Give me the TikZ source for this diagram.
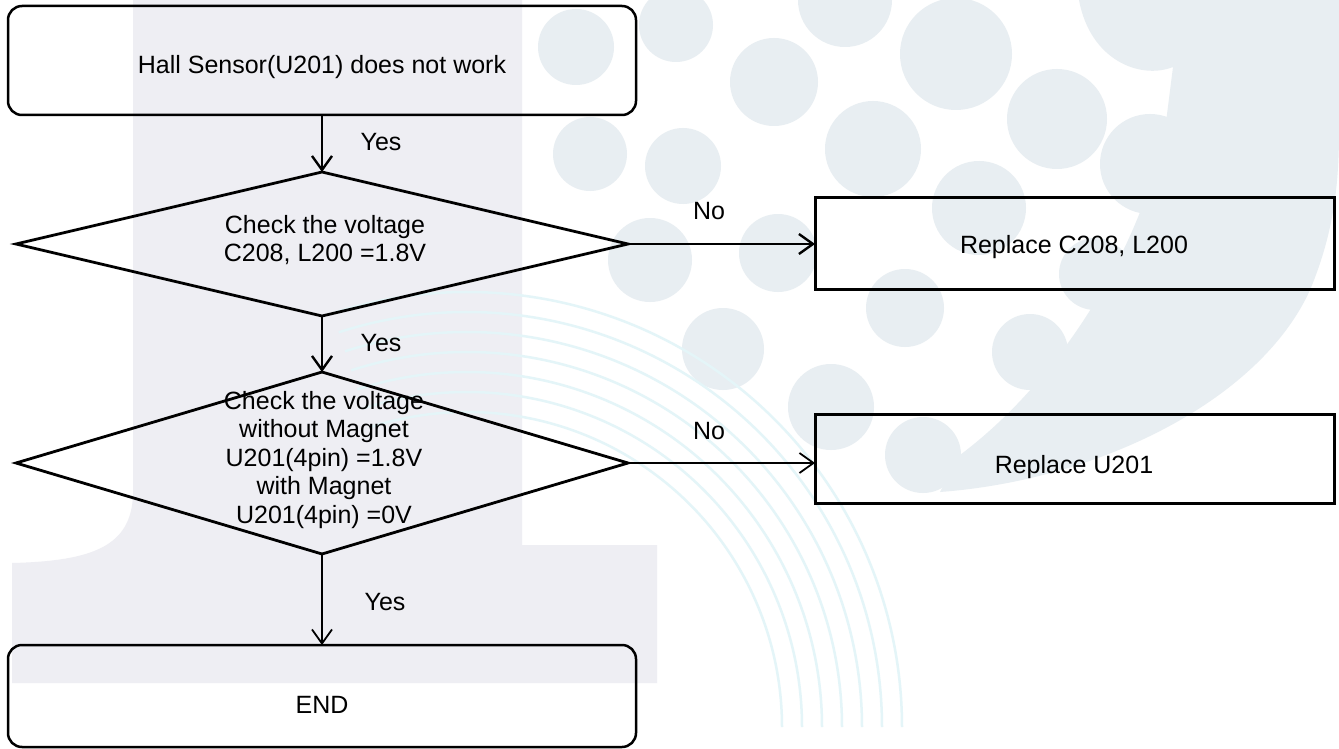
\documentclass[tikz,border=0pt]{standalone}
\usepackage{fontspec}
\setmainfont{Liberation Sans}
\usetikzlibrary{arrows.meta,shapes.geometric,calc}
\definecolor{bandgrey}{HTML}{EEEEF3}
\definecolor{dotblue}{HTML}{E8EEF2}
\definecolor{arccyan}{HTML}{E4F5F8}
\begin{document}
\begin{tikzpicture}[x=1pt,y=-1pt,
  every node/.style={font=\fontsize{25}{28.5}\selectfont},
  rbox/.style={draw, rounded corners=14pt, line width=2.5pt, minimum width=628pt, inner sep=0pt, outer sep=0pt},
  sbox/.style={draw, rectangle, line width=3pt, minimum width=519pt, inner sep=0pt, outer sep=0pt},
  dia/.style={draw, diamond, line width=2.8pt, inner sep=0pt, outer sep=0pt, minimum width=612pt},
  txt/.style={align=center, inner sep=0pt},
  btxt/.style={inner sep=0pt, anchor=base},
  arr/.style={-{Straight Barb[length=14pt,width=20pt]}, line width=2.4pt},
  arrthin/.style={-{Straight Barb[length=14pt,width=20pt]}, line width=1.8pt},
  dot/.style={fill=dotblue, draw=none}]
\useasboundingbox (0,0) rectangle (1339,749);
\fill[white] (0,0) rectangle (1339,749);
% ---------- faint watermark ----------
\fill[bandgrey] (133,0) -- (133,495) .. controls (131,545) and (95,561) .. (12,563)
  -- (12,683) -- (657,683) -- (657,545) -- (522,545) -- (522,0) -- cycle;
\foreach \cx/\cy/\r in {576/47/38, 676/25/37, 845/0/47, 774/82/44, 956/54/56,
  590/154/37, 683/166/38, 873/149/48, 1057/119/50, 650/260/42, 778/253/39,
  979/208/47, 905/308/39, 723/349/41, 831/407/43,
  1150/164/50, 1095/274/36, 1030/352/38, 923/455/38}
  \fill[dot] (\cx,\cy) circle[radius=\r];
\fill[dot] (1079,0) .. controls (1090,60) and (1140,80) .. (1173,67)
  -- (1165,130) .. controls (1140,250) and (1060,380) .. (960,455)
  -- (940,492) .. controls (1100,480) and (1260,400) .. (1310,290)
  .. controls (1335,230) and (1339,180) .. (1339,130) -- (1339,0) -- cycle;
\foreach \r in {435,415,395,375,355,335,315}
  \draw[arccyan, line width=2.5pt] ($(467,727)+(-108:\r)$) arc[start angle=-108, end angle=0, radius=\r];
% ---------- flowchart ----------
\node[rbox, minimum height=109pt] (start) at (322,60.5) {};
\node[btxt] (ts) at (322,74) {Hall Sensor(U201) does not work};
\node[dia, minimum height=144pt] (d1) at (322,244) {};
\node[txt] (t1) at (325,240) {Check the voltage\\C208, L200 =1.8V};
\node[dia, minimum height=182pt] (d2) at (322,463) {};
\node[txt] (t2) at (324,460) {Check the voltage\\without Magnet\\U201(4pin) =1.8V\\with Magnet\\U201(4pin) =0V};
\node[rbox, minimum height=102pt] (end) at (322,696) {};
\node[btxt] (te) at (322,713) {END};
\node[sbox, minimum height=92pt] (r1) at (1074.5,243) {};
\node[btxt] (tr1) at (1074,253) {Replace C208, L200};
\node[sbox, minimum height=89pt] (r2) at (1074.5,458.5) {};
\node[btxt] (tr2) at (1074,473) {Replace U201};
\draw[arr] (start) -- (d1);
\draw[arr] (d1) -- (d2);
\draw[arrthin] (d2) -- (end);
\draw[arr] (d1.east) -- (d1.east -| r1.west);
\draw[arrthin] (d2.east) -- (d2.east -| r2.west);
\node[btxt] (y1) at (381,150) {Yes};
\node[btxt] (y2) at (381,351) {Yes};
\node[btxt] (y3) at (385,610) {Yes};
\node[btxt] (n1) at (709,219) {No};
\node[btxt] (n2) at (709,439) {No};
\end{tikzpicture}
\end{document}
